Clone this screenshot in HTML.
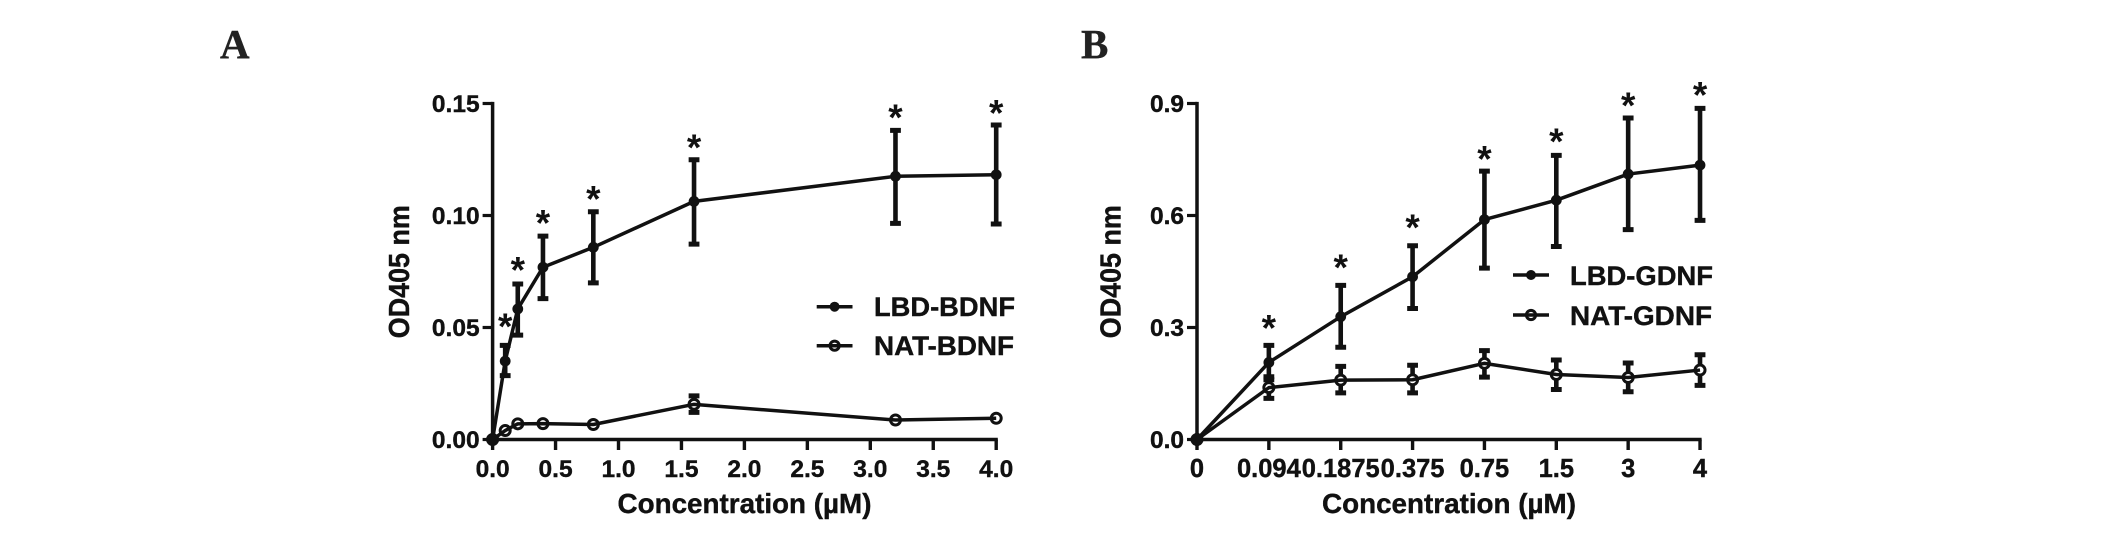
<!DOCTYPE html>
<html lang="en">
<head>
<meta charset="utf-8">
<title>OD405 binding curves</title>
<style>
html,body{margin:0;padding:0;background:#fff;width:2126px;height:544px;overflow:hidden}
svg{display:block}
text{font-family:"Liberation Sans",sans-serif;font-weight:bold;fill:#111;stroke:#111;stroke-width:.4px}
.panel{font-family:"Liberation Serif",serif;font-size:41px;fill:#222;stroke:#222}
.title{font-size:28px}
.ytitle{font-size:28px}
.legend{font-size:26.5px}
</style>
</head>
<body>
<svg id="fig" xmlns="http://www.w3.org/2000/svg" width="2126" height="544" viewBox="0 0 2126 544">
  <text class="panel" x="220" y="58">A</text>
  <text class="panel" x="1081" y="58">B</text>

  <g id="chart-a">
    <text class="ytitle" text-anchor="middle" textLength="133" lengthAdjust="spacingAndGlyphs" transform="translate(409,271.7) rotate(-90) scale(1,1.02)">OD405 nm</text>
    <text class="title" text-anchor="middle" textLength="254" lengthAdjust="spacingAndGlyphs" x="744.5" y="513">Concentration (µM)</text>
    <g>
      <line x1="816.7" x2="852.5" y1="306.7" y2="306.7" stroke="#111" stroke-width="3.5"/>
      <circle cx="834.6" cy="306.7" r="5" fill="#111"/>
      <text class="legend" x="874" y="316" textLength="141" lengthAdjust="spacingAndGlyphs">LBD-BDNF</text>
      <line x1="816.7" x2="852.5" y1="345.7" y2="345.7" stroke="#111" stroke-width="3.5"/>
      <circle cx="834.6" cy="345.7" r="4.6" fill="none" stroke="#111" stroke-width="3"/>
      <text class="legend" x="874" y="355" textLength="140" lengthAdjust="spacingAndGlyphs">NAT-BDNF</text>
    </g>
  </g>

  <g id="chart-b">
    <text class="ytitle" text-anchor="middle" textLength="133" lengthAdjust="spacingAndGlyphs" transform="translate(1120.5,271.7) rotate(-90) scale(1,1.02)">OD405 nm</text>
    <text class="title" text-anchor="middle" textLength="254" lengthAdjust="spacingAndGlyphs" x="1449" y="513">Concentration (µM)</text>
    <g>
      <line x1="1513" x2="1549" y1="275" y2="275" stroke="#111" stroke-width="3.5"/>
      <circle cx="1531" cy="275" r="5" fill="#111"/>
      <text class="legend" x="1570" y="285" textLength="143" lengthAdjust="spacingAndGlyphs">LBD-GDNF</text>
      <line x1="1513" x2="1549" y1="315" y2="315" stroke="#111" stroke-width="3.5"/>
      <circle cx="1531" cy="315" r="4.6" fill="none" stroke="#111" stroke-width="3"/>
      <text class="legend" x="1570" y="325" textLength="142" lengthAdjust="spacingAndGlyphs">NAT-GDNF</text>
    </g>
  </g>
</svg>
<script>
// Chart A values
const concA = [0, 0.1, 0.2, 0.4, 0.8, 1.6, 3.2, 4];
const lbdBdnf = [0, 0.035, 0.0583, 0.0769, 0.0858, 0.1063, 0.1175, 0.1182];
const lbdBdnfHigh = [0, 0.042, 0.0694, 0.0908, 0.1017, 0.1249, 0.138, 0.1404];
const lbdBdnfLow = [0, 0.0285, 0.0466, 0.0629, 0.0699, 0.0872, 0.0965, 0.0962];
const natBdnf = [0, 0.004, 0.007, 0.0071, 0.0067, 0.0157, 0.0087, 0.0095];
const natBdnfHigh = [0, 0.004, 0.007, 0.0071, 0.0067, 0.0195, 0.0087, 0.0095];
const natBdnfLow = [0, 0.004, 0.007, 0.0071, 0.0067, 0.0121, 0.0087, 0.0095];
const starsA = [null, 0.0536, 0.0789, 0.0998, 0.1105, 0.1334, 0.1469, 0.1489];
const xTicksA = [0, 0.5, 1, 1.5, 2, 2.5, 3, 3.5, 4];
const xTickLabelsA = ['0.0', '0.5', '1.0', '1.5', '2.0', '2.5', '3.0', '3.5', '4.0'];
const yTicksA = [0, 0.05, 0.1, 0.15];
const yTickLabelsA = ['0.00', '0.05', '0.10', '0.15'];

// Chart B values (categorical, evenly spaced x axis)
const categoriesB = ['0', '0.094', '0.1875', '0.375', '0.75', '1.5', '3', '4'];
const lbdGdnf = [0, 0.2064, 0.329, 0.436, 0.589, 0.641, 0.711, 0.735];
const lbdGdnfHigh = [0, 0.252, 0.413, 0.519, 0.719, 0.761, 0.861, 0.887];
const lbdGdnfLow = [0, 0.16, 0.247, 0.351, 0.459, 0.517, 0.562, 0.587];
const natGdnf = [0, 0.139, 0.159, 0.16, 0.204, 0.174, 0.166, 0.186];
const natGdnfHigh = [0, 0.168, 0.196, 0.199, 0.238, 0.213, 0.205, 0.227];
const natGdnfLow = [0, 0.11, 0.125, 0.125, 0.167, 0.134, 0.128, 0.145];
const starsB = [null, 0.317, 0.48, 0.586, 0.77, 0.817, 0.914, 0.942];
const yTicksB = [0, 0.3, 0.6, 0.9];
const yTickLabelsB = ['0.0', '0.3', '0.6', '0.9'];

const NS = 'http://www.w3.org/2000/svg';
const INK = '#111';

function make(tag, props, parent) {
  const el = document.createElementNS(NS, tag);
  for (const k in props) el.setAttribute(k, props[k]);
  parent.appendChild(el);
  return el;
}

function drawAxes(parent, key, xFn, yFn, xVals, xLabels, yVals, yLabels, xFont) {
  const y0 = yFn(0), yTop = yFn(yVals[yVals.length - 1]);
  const x0 = xFn(xVals[0]), xEnd = xFn(xVals[xVals.length - 1]);

  const yAxis = make('line', {x1: x0, x2: x0, y1: yTop - 1.6, y2: y0 + 1.6, stroke: INK, 'stroke-width': 3.5}, parent);
  
  

  const xAxis = make('line', {x1: x0 - 1.6, x2: xEnd + 1.6, y1: y0, y2: y0, stroke: INK, 'stroke-width': 3.5}, parent);
  
  

  xVals.forEach(function (v, i) {
    const t = make('line', {x1: xFn(v), x2: xFn(v), y1: y0, y2: y0 + 10.5, stroke: INK, 'stroke-width': 3.4}, parent);
    
    
    const l = make('text', {x: xFn(v), y: 477, 'text-anchor': 'middle', 'font-size': xFont}, parent);
    l.textContent = xLabels[i];
    
    
  });

  yVals.forEach(function (v, i) {
    const t = make('line', {x1: x0 - 10, x2: x0, y1: yFn(v), y2: yFn(v), stroke: INK, 'stroke-width': 3.2}, parent);
    
    
    const l = make('text', {x: x0 - 13, y: yFn(v) + 8.6, 'text-anchor': 'end', 'font-size': 24.5}, parent);
    l.textContent = yLabels[i];
    
    
  });
}

function drawSeries(parent, key, xs, values, high, low, filled, xFn, yFn) {
  const g = make('g', {}, parent);
  
  

  xs.forEach(function (xv, i) {
    if (high[i] === low[i]) return;
    const x = xFn(xv), yh = yFn(high[i]), yl = yFn(low[i]);
    const stem = make('line', {x1: x, x2: x, y1: yh, y2: yl, stroke: INK, 'stroke-width': 4.6}, g);
    
    
    const caps = make('path', {
      d: 'M' + (x - 5.4) + ' ' + yh + 'H' + (x + 5.4) + 'M' + (x - 5.4) + ' ' + yl + 'H' + (x + 5.4),
      fill: 'none', stroke: INK, 'stroke-width': 5
    }, g);
    
    
  });

  // Open markers knock out the error-bar stem, then the line shows through the ring.
  if (!filled) {
    xs.forEach(function (xv, i) {
      const hole = make('circle', {cx: xFn(xv), cy: yFn(values[i]), r: 5, fill: '#fff'}, g);
      
      
    });
  }

  const pts = xs.map(function (xv, i) { return xFn(xv) + ',' + yFn(values[i]); }).join(' ');
  const line = make('polyline', {points: pts, fill: 'none', stroke: INK, 'stroke-width': 3.5, 'stroke-linejoin': 'round'}, g);
  
  

  xs.forEach(function (xv, i) {
    const props = filled
      ? {cx: xFn(xv), cy: yFn(values[i]), r: 5.4, fill: INK}
      : {cx: xFn(xv), cy: yFn(values[i]), r: 5, fill: 'none', stroke: INK, 'stroke-width': 3};
    const dot = make('circle', props, g);
    
    
  });
}

function drawStars(parent, key, xs, stars, xFn, yFn) {
  xs.forEach(function (xv, i) {
    if (stars[i] === null) return;
    const s = make('text', {x: xFn(xv), y: yFn(stars[i]) + 19.5, 'text-anchor': 'middle', 'font-size': 37, style: 'stroke:none'}, parent);
    s.textContent = '*';
    
    
  });
}

function originMarker(parent, key, x, y) {
  const d = make('path', {d: 'M' + (x - 8) + ' ' + y + 'L' + x + ' ' + (y - 8) + 'L' + (x + 8) + ' ' + y + 'L' + x + ' ' + (y + 8) + 'Z', fill: INK}, parent);
  
  
}

// Chart A
const gA = document.getElementById('chart-a');
const xA = function (v) { return 492.6 + v * 125.9; };
const yA = function (v) { return 439.5 - v / 0.15 * 336; };
drawAxes(gA, 'a', xA, yA, xTicksA, xTickLabelsA, yTicksA, yTickLabelsA, 24.5);
drawSeries(gA, 'nat-bdnf', concA, natBdnf, natBdnfHigh, natBdnfLow, false, xA, yA);
drawSeries(gA, 'lbd-bdnf', concA, lbdBdnf, lbdBdnfHigh, lbdBdnfLow, true, xA, yA);
originMarker(gA, 'a', xA(concA[0]), yA(lbdBdnf[0]));
drawStars(gA, 'a', concA, starsA, xA, yA);

// Chart B
const gB = document.getElementById('chart-b');
const indexB = categoriesB.map(function (c, i) { return i; });
const xB = function (i) { return 1197 + i * 71.86; };
const yB = function (v) { return 439.5 - v / 0.9 * 336; };
drawAxes(gB, 'b', xB, yB, indexB, categoriesB, yTicksB, yTickLabelsB, 25.5);
drawSeries(gB, 'lbd-gdnf', indexB, lbdGdnf, lbdGdnfHigh, lbdGdnfLow, true, xB, yB);
drawSeries(gB, 'nat-gdnf', indexB, natGdnf, natGdnfHigh, natGdnfLow, false, xB, yB);
originMarker(gB, 'b', xB(0), yB(lbdGdnf[0]));
drawStars(gB, 'b', indexB, starsB, xB, yB);
</script>
</body>
</html>
